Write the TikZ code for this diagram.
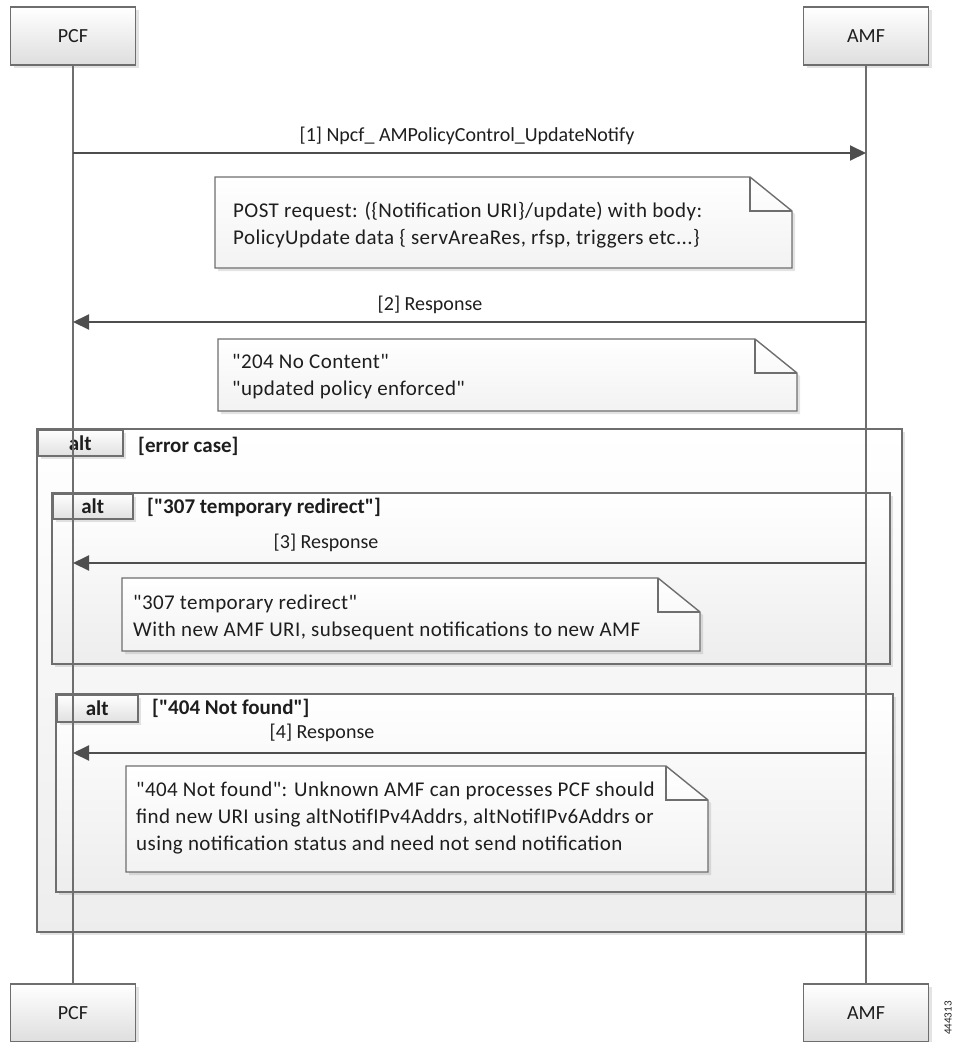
\documentclass[tikz,border=0pt]{standalone}
\usepackage{fontspec}
\setmainfont{Carlito}[Ligatures=TeXOff]
\newfontfamily\notefam{Carlito}[Ligatures=TeXOff, LetterSpace=2]
\usetikzlibrary{arrows.meta,shadows}
\definecolor{ln}{HTML}{6E6E6E}
\definecolor{ar}{HTML}{4E4E4E}
\definecolor{tx}{HTML}{1E1E1E}
\newcommand\txtfont{\fontsize{20}{27}\selectfont}
\newcommand\notefont{\notefam\fontsize{21}{27}\selectfont}
\newcommand\guardfont{\bfseries\fontsize{21}{27}\selectfont}
\tikzset{
  every node/.style={text=tx},
  myshadow/.style={drop shadow={opacity=.22,shadow xshift=3pt,shadow yshift=-3pt}},
  actor/.style={draw=ln, line width=1.3pt, top color=white, bottom color=black!13,
    minimum width=125pt, minimum height=58pt, myshadow, font=\txtfont},
  lifeline/.style={draw=ln, line width=1.6pt},
  msg/.style={draw=ar, line width=2pt, -{Triangle[length=16pt,width=15pt]}},
  msglabel/.style={font=\txtfont, inner sep=0pt},
  altframe/.style={draw=ln, line width=1.5pt, top color=white, bottom color=black!7, myshadow},
  alttab/.style={draw=ln, line width=1.5pt, top color=white, bottom color=black!12,
    font=\guardfont, anchor=north west, inner sep=0pt, myshadow},
  guard/.style={font=\guardfont, anchor=west, inner sep=0pt},
  notefill/.style={draw=ln, line width=1.4pt, top color=white, bottom color=black!5, myshadow},
  notefold/.style={draw=ln, line width=1.4pt},
  notetext/.style={font=\notefont, anchor=west, align=left, inner sep=0pt},
}
% note outline: x1,y1,x2,y2
\newcommand\notebox[4]{%
  \path[notefill] (#1,#2) -- ({#3-42},#2) -- (#3,{#2+34}) -- (#3,#4) -- (#1,#4) -- cycle;
  \draw[notefold] ({#3-42},#2) -- ({#3-42},{#2+34}) -- (#3,{#2+34});
}
\begin{document}
\begin{tikzpicture}[x=1pt,y=-1pt]
\useasboundingbox (0,0) rectangle (953,1042);

% participants
\node[actor] (pcf)  at (73,36) {PCF};
\node[actor] (amf)  at (866,36) {AMF};
\node[actor] (pcf2) at (73,1013) {PCF};
\node[actor] (amf2) at (866,1013) {AMF};

% frames
\draw[altframe] (37,429) rectangle (902,932);
\node[alttab, minimum width=85pt, minimum height=26pt] (tab1) at (37,429) {alt};
\node[guard] (g1) at (138,446) {[error case]};

\draw[altframe] (52,493) rectangle (890,664);
\node[alttab, minimum width=80pt, minimum height=25pt] (tab2) at (52,493) {alt};
\node[guard] (g2) at (147,507) {["307 temporary redirect"]};

\draw[altframe] (56,694) rectangle (893,892);
\node[alttab, minimum width=81pt, minimum height=27pt] (tab3) at (56,694) {alt};
\node[guard] (g3) at (152,708) {["404 Not found"]};

% lifelines
\draw[lifeline] (pcf.south) -- (pcf2.north);
\draw[lifeline] (amf.south) -- (amf2.north);

% message endpoints
\coordinate (p1) at (73,153);  \coordinate (a1) at (866,153);
\coordinate (p2) at (73,322);  \coordinate (a2) at (866,322);
\coordinate (p3) at (73,563);  \coordinate (a3) at (866,563);
\coordinate (p4) at (73,753);  \coordinate (a4) at (866,753);

\draw[msg] (p1) -- (a1);
\node[msglabel] (l1) at (467,136) {[1] Npcf\_ AMPolicyControl\_UpdateNotify};
\draw[msg] (a2) -- (p2);
\node[msglabel] (l2) at (430,305) {[2] Response};
\draw[msg] (a3) -- (p3);
\node[msglabel] (l3) at (326,543) {[3] Response};
\draw[msg] (a4) -- (p4);
\node[msglabel] (l4) at (322,733) {[4] Response};

% notes
\notebox{215}{177}{792}{268}
\node[notetext] (n1) at (233,225) {POST request: (\{Notification URI\}/update) with body:\\PolicyUpdate data \{ servAreaRes, rfsp, triggers etc...\}};
\notebox{218}{339}{797}{411}
\node[notetext] (n2) at (232,377) {"204 No Content"\\"updated policy enforced"};
\notebox{122}{578}{700}{651}
\node[notetext] (n3) at (133,617) {"307 temporary redirect"\\With new AMF URI, subsequent notifications to new AMF};
\notebox{126}{766}{708}{872}
\node[notetext] (n4) at (136,818) {"404 Not found": Unknown AMF can processes PCF should\\find new URI using altNotifIPv4Addrs, altNotifIPv6Addrs or\\using notification status and need not send notification};

% figure id
\node[rotate=90, font=\fontsize{11}{12}\selectfont, inner sep=0pt] (figid) at (948,1018) {444313};
\end{tikzpicture}
\end{document}
